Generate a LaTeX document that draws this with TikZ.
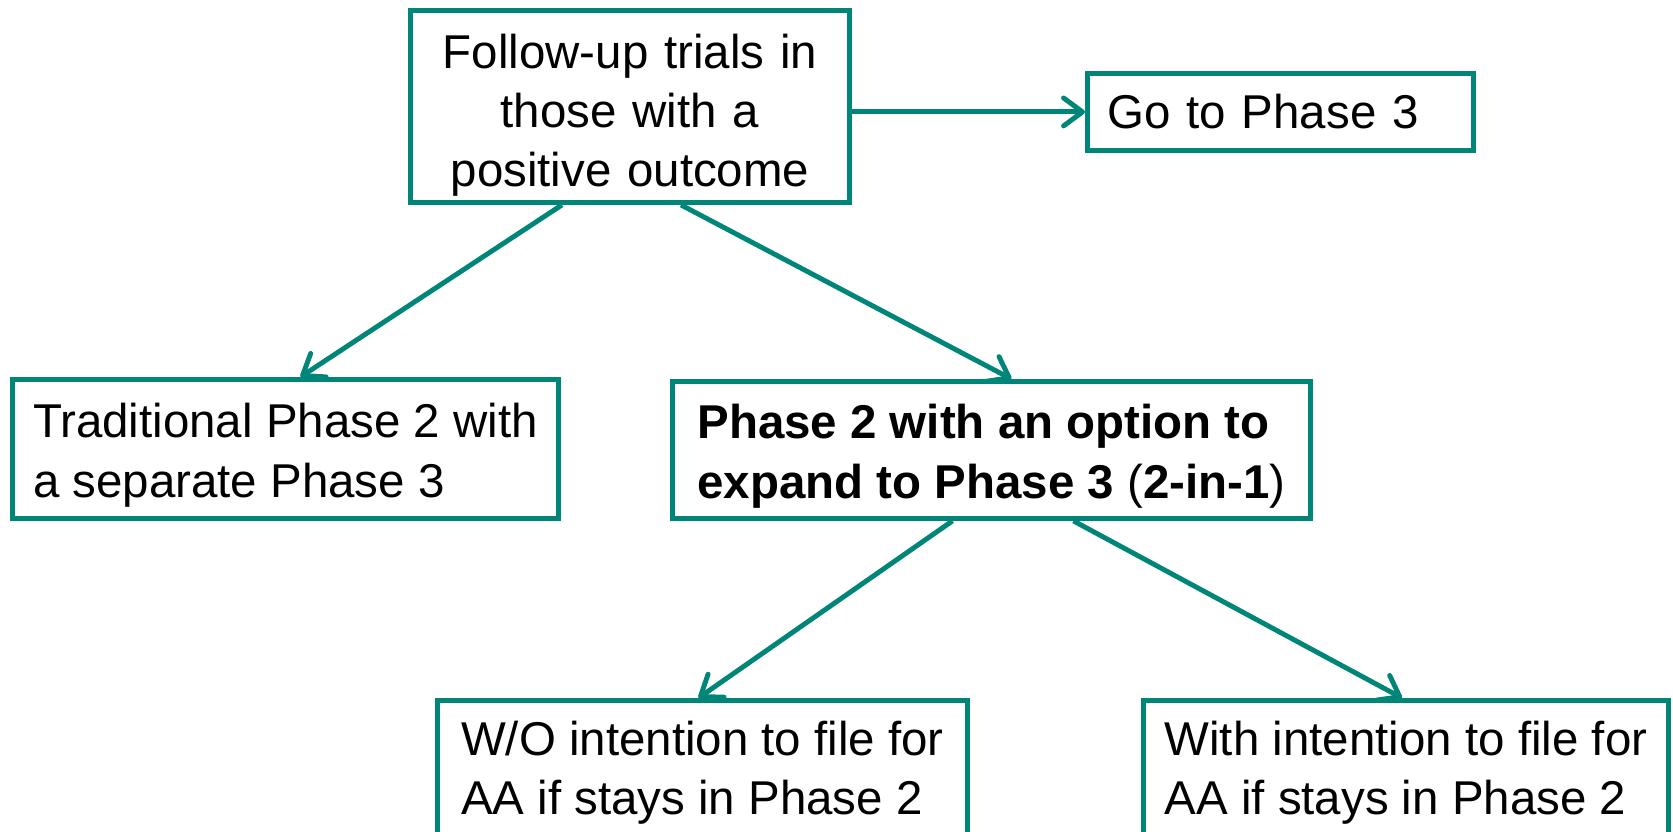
\documentclass[tikz,border=0pt]{standalone}
\usepackage{fontspec}
\setmainfont{Liberation Sans}
\usepackage{tikz}
\usetikzlibrary{arrows.meta, positioning}
\definecolor{trialteal}{RGB}{0, 134, 120}

\begin{document}
\begin{tikzpicture}[
			box/.style={rectangle, draw=trialteal, line width=1.4pt, fill=white, inner xsep=0.2cm, inner ysep=0pt, align=left, anchor=north west, font=\fontsize{13.5}{16.8}\selectfont},
			twoline/.style={text height=1.06cm},
			arrow/.style={-{Straight Barb[length=1.9mm, width=2.8mm, round]}, line width=1.4pt, draw=trialteal}
		]
		\useasboundingbox (0,0) rectangle (16.73,8.32);
		% Top level
		\node[box, text height=0.52cm, align=center, minimum width=4.39cm, minimum height=1.92cm, text width=3.99cm] (follow) at (4.08,8.24) {Follow-up trials in\\those with a\\positive outcome};
		\node[box, minimum width=3.86cm, minimum height=0.77cm, text width=3.46cm] (gophase) at (10.85,7.61) {Go to Phase 3};
		
		% Phase 2 options
		\node[box, twoline, minimum width=5.46cm, minimum height=1.39cm] (traditional) at (0.10,4.55) {Traditional Phase 2 with\\a separate Phase 3};
		\node[box, twoline, minimum width=6.38cm, minimum height=1.37cm] (twoinone) at (6.70,4.53) {\textbf{Phase 2 with an option to}\\\textbf{expand to Phase 3} (\textbf{2-in-1})};
		
		% Filing intentions
		\node[box, twoline, text height=0.98cm, minimum width=5.30cm, minimum height=1.40cm] (without) at (4.35,1.34) {W/O intention to file for\\AA if stays in Phase 2};
		\node[box, twoline, text height=0.98cm, minimum width=5.25cm, minimum height=1.40cm] (withfile) at (11.41,1.34) {With intention to file for\\AA if stays in Phase 2};
		
		% Arrows
		\draw[arrow] (follow.east |- gophase.west) -- (gophase.west);
		\draw[arrow] ([xshift=-0.68cm]follow.south) -- ([xshift=0.15cm]traditional.north);
		\draw[arrow] ([xshift=0.51cm]follow.south) -- ([xshift=0.20cm]twoinone.north);
		\draw[arrow] ([xshift=-0.39cm]twoinone.south) -- ([xshift=-0.04cm]without.north);
		\draw[arrow] ([xshift=0.82cm]twoinone.south) -- ([xshift=-0.04cm]withfile.north);
		\end{tikzpicture}
\end{document}
